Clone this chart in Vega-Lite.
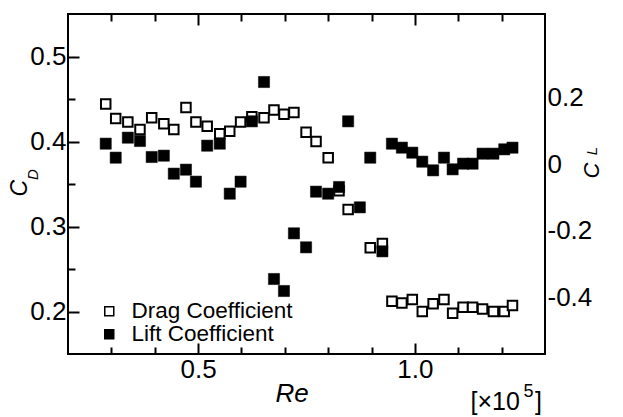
{
  "$schema": "https://vega.github.io/schema/vega-lite/v6.json",
  "width": 477,
  "height": 340,
  "autosize": {"type": "none"},
  "padding": {"left": 68, "top": 14, "right": 78, "bottom": 63},
  "background": "white",
  "data": {
    "values": [
      {"Re": 0.287, "CD": 0.444, "CL": 0.061},
      {"Re": 0.310, "CD": 0.427, "CL": 0.019},
      {"Re": 0.338, "CD": 0.423, "CL": 0.079},
      {"Re": 0.366, "CD": 0.414, "CL": 0.069},
      {"Re": 0.393, "CD": 0.428, "CL": 0.021},
      {"Re": 0.421, "CD": 0.421, "CL": 0.025},
      {"Re": 0.444, "CD": 0.414, "CL": -0.029},
      {"Re": 0.472, "CD": 0.440, "CL": -0.017},
      {"Re": 0.495, "CD": 0.423, "CL": -0.053},
      {"Re": 0.521, "CD": 0.418, "CL": 0.055},
      {"Re": 0.550, "CD": 0.409, "CL": 0.061},
      {"Re": 0.573, "CD": 0.412, "CL": -0.089},
      {"Re": 0.598, "CD": 0.423, "CL": -0.053},
      {"Re": 0.624, "CD": 0.429, "CL": 0.128},
      {"Re": 0.652, "CD": 0.428, "CL": 0.246},
      {"Re": 0.675, "CD": 0.437, "CL": -0.345},
      {"Re": 0.698, "CD": 0.432, "CL": -0.381},
      {"Re": 0.721, "CD": 0.434, "CL": -0.208},
      {"Re": 0.749, "CD": 0.411, "CL": -0.250},
      {"Re": 0.772, "CD": 0.400, "CL": -0.083},
      {"Re": 0.800, "CD": 0.381, "CL": -0.089},
      {"Re": 0.825, "CD": 0.342, "CL": -0.069},
      {"Re": 0.846, "CD": 0.320, "CL": 0.128},
      {"Re": 0.873, "CD": null, "CL": -0.130},
      {"Re": 0.897, "CD": 0.275, "CL": 0.019},
      {"Re": 0.925, "CD": 0.280, "CL": -0.262},
      {"Re": 0.947, "CD": 0.212, "CL": 0.061},
      {"Re": 0.970, "CD": 0.210, "CL": 0.049},
      {"Re": 0.994, "CD": 0.214, "CL": 0.034},
      {"Re": 1.017, "CD": 0.200, "CL": 0.007},
      {"Re": 1.042, "CD": 0.209, "CL": -0.019},
      {"Re": 1.067, "CD": 0.214, "CL": 0.019},
      {"Re": 1.087, "CD": 0.198, "CL": -0.016},
      {"Re": 1.111, "CD": 0.205, "CL": 0.001},
      {"Re": 1.133, "CD": 0.205, "CL": 0.001},
      {"Re": 1.156, "CD": 0.203, "CL": 0.031},
      {"Re": 1.181, "CD": 0.200, "CL": 0.031},
      {"Re": 1.206, "CD": 0.200, "CL": 0.044},
      {"Re": 1.225, "CD": 0.207, "CL": 0.049}
    ]
  },
  "resolve": {"scale": {"y": "independent", "x": "shared", "fill": "shared"}, "axis": {"x": "independent", "y": "independent"}},
  "layer": [
    {
      "mark": {"type": "point", "shape": "square", "filled": true, "stroke": "black", "strokeWidth": 2, "size": 90, "opacity": 1},
      "encoding": {
        "x": {"field": "Re", "type": "quantitative", "scale": {"domain": [0.2, 1.3], "nice": false, "zero": false},
          "axis": {"orient": "bottom", "values": [0.5, 1.0], "format": ".1f", "tickSize": -11, "labelPadding": 13,
            "title": "Re", "titleFontStyle": "italic", "titleFontSize": 26, "titleX": 223.5, "titleY": 39, "titleAlign": "center", "titleBaseline": "middle", "titleAngle": 0}},
        "y": {"field": "CD", "type": "quantitative", "scale": {"domain": [0.15, 0.55], "nice": false, "zero": false},
          "axis": {"orient": "left", "values": [0.2, 0.3, 0.4, 0.5], "format": ".1f", "tickSize": -11, "labelPadding": 13, "title": null}},
        "fill": {"datum": "Drag Coefficient", "type": "nominal",
          "scale": {"domain": ["Drag Coefficient", "Lift Coefficient"], "range": ["white", "black"]},
          "legend": {"orient": "none", "legendX": 30, "legendY": 286, "title": null, "symbolType": "square", "symbolSize": 81,
            "symbolStrokeWidth": 1.5, "symbolStrokeColor": "black", "labelFontSize": 22.5, "labelOffset": 11, "rowPadding": 0, "padding": 0,
            "labelColor": "black", "labelLimit": 0, "labelFont": "Liberation Sans",
            "encode": {"symbols": {"update": {"stroke": {"value": "black"}, "strokeWidth": {"value": 1.5}}}}}}
      }
    },
    {
      "mark": {"type": "point", "shape": "square", "filled": true, "stroke": "black", "strokeWidth": 0.5, "size": 125, "opacity": 1},
      "encoding": {
        "x": {"field": "Re", "type": "quantitative",
          "axis": {"orient": "top", "values": [0.5, 1.0], "tickSize": -11, "labels": false, "title": null}},
        "y": {"field": "CL", "type": "quantitative", "scale": {"domain": [-0.57, 0.45], "nice": false, "zero": false},
          "axis": {"orient": "right", "values": [-0.4, -0.2, 0, 0.2], "ticks": false, "labelPadding": 2,
            "labelExpr": "datum.value == 0 ? '0' : (datum.value < 0 ? '-' + format(-datum.value, '.1f') : format(datum.value, '.1f'))",
            "title": "C", "titleFontStyle": "italic", "titleFontSize": 22, "titleX": 46.7, "titleY": 156, "titleAngle": -90, "titleAlign": "center", "titleBaseline": "middle"}},
        "fill": {"datum": "Lift Coefficient", "type": "nominal"}
      }
    },
    {
      "mark": {"type": "point", "opacity": 0},
      "encoding": {
        "x": {"field": "Re", "type": "quantitative",
          "axis": {"orient": "bottom", "values": [0.3, 0.4, 0.6, 0.7, 0.8, 0.9, 1.1, 1.2], "tickSize": -7, "labels": false,
            "title": "[×10", "titleFontSize": 25, "titleX": 402, "titleY": 55, "titleAlign": "left", "titleBaseline": "alphabetic", "titleAngle": 0}},
        "y": {"field": "CD", "type": "quantitative", "scale": {"domain": [0.15, 0.55], "nice": false, "zero": false},
          "axis": {"orient": "left", "values": [0.25, 0.35, 0.45], "tickSize": -7, "labels": false,
            "title": "C", "titleFontStyle": "italic", "titleFontSize": 23, "titleX": -48.3, "titleY": 173.7, "titleAngle": -90, "titleAlign": "center", "titleBaseline": "middle"}}
      }
    },
    {
      "mark": {"type": "point", "opacity": 0},
      "encoding": {
        "x": {"field": "Re", "type": "quantitative",
          "axis": {"orient": "top", "values": [0.3, 0.4, 0.6, 0.7, 0.8, 0.9, 1.1, 1.2], "tickSize": -7, "labels": false,
            "title": "5", "titleFontSize": 18, "titleX": 455, "titleY": 382, "titleAlign": "left", "titleBaseline": "alphabetic", "titleAngle": 0}},
        "y": {"field": "CD", "type": "quantitative", "scale": {"domain": [0.15, 0.55], "nice": false, "zero": false},
          "axis": {"orient": "left", "ticks": false, "labels": false, "values": [],
            "title": "D", "titleFontStyle": "italic", "titleFontSize": 15, "titleX": -35.5, "titleY": 160, "titleAngle": -90, "titleAlign": "center", "titleBaseline": "middle"}}
      }
    },
    {
      "mark": {"type": "point", "opacity": 0},
      "encoding": {
        "x": {"field": "Re", "type": "quantitative",
          "axis": {"orient": "bottom", "ticks": false, "labels": false, "values": [],
            "title": "]", "titleFontSize": 25, "titleX": 466.5, "titleY": 55, "titleAlign": "left", "titleBaseline": "alphabetic", "titleAngle": 0}},
        "y": {"field": "CL", "type": "quantitative", "scale": {"domain": [-0.57, 0.45], "nice": false, "zero": false},
          "axis": {"orient": "right", "ticks": false, "labels": false, "values": [],
            "title": "L", "titleFontStyle": "italic", "titleFontSize": 15, "titleX": 46, "titleY": 136.5, "titleAngle": -90, "titleAlign": "center", "titleBaseline": "middle"}}
      }
    }
  ],
  "config": {
    "font": "Liberation Sans",
    "view": {"stroke": "black", "strokeWidth": 2},
    "axis": {"domain": false, "grid": false, "labelFontSize": 26, "labelColor": "black", "tickColor": "black", "tickWidth": 2,
      "titleFontWeight": "normal", "titleColor": "black", "labelFont": "Liberation Sans", "titleFont": "Liberation Sans"}
  }
}
